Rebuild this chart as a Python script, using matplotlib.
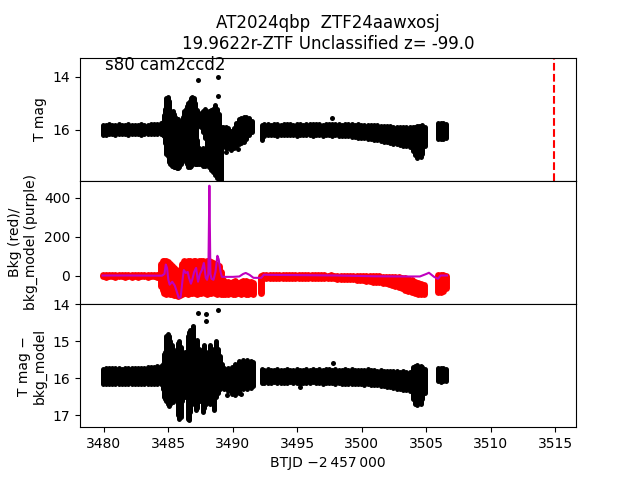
import matplotlib
matplotlib.use("Agg")
import matplotlib.pyplot as plt

# ---------------- data ----------------
# Top panel: T mag (ranges of the dense point band per time step)
top_t = [3479.90, 3480.15, 3480.40, 3480.65, 3480.90, 3481.15, 3481.40, 3481.65, 3481.90, 3482.15,
         3482.40, 3482.65, 3482.90, 3483.15, 3483.40, 3483.65, 3483.90, 3484.15, 3484.40, 3484.55,
         3484.65, 3484.75, 3484.85, 3484.95, 3485.05, 3485.15, 3485.25, 3485.35, 3485.45, 3485.55,
         3485.65, 3485.75, 3485.85, 3485.95, 3486.05, 3486.15, 3486.25, 3486.35, 3486.45, 3486.55,
         3486.65, 3486.75, 3486.85, 3486.95, 3487.05, 3487.15,
         3487.25, 3487.25, 3487.40, 3487.40, 3487.55, 3487.55, 3487.70, 3487.70, 3487.85, 3487.85,
         3488.00, 3488.15, 3488.30, 3488.45, 3488.60, 3488.75, 3488.90, 3489.05,
         3489.25, 3489.45, 3489.65, 3489.85, 3490.05, 3490.25, 3490.45, 3490.65, 3490.85, 3491.05,
         3491.25, 3491.45,
         3492.25, 3492.45, 3492.70, 3492.95, 3493.20, 3493.45, 3493.70, 3493.95, 3494.20, 3494.45,
         3494.70, 3494.95, 3495.20, 3495.45, 3495.70, 3495.95, 3496.20, 3496.45, 3496.70, 3496.95,
         3497.20, 3497.45, 3497.70, 3497.95, 3498.20, 3498.45, 3498.70, 3498.95, 3499.20, 3499.45,
         3499.70, 3499.95, 3500.20, 3500.45, 3500.70, 3500.95, 3501.20, 3501.45, 3501.70, 3501.95,
         3502.20, 3502.45, 3502.70, 3502.95, 3503.20, 3503.45, 3503.70, 3503.95, 3504.10, 3504.25,
         3504.40, 3504.55, 3504.70, 3504.90,
         3505.90, 3506.10, 3506.30, 3506.55]
top_lo = [15.80, 15.81, 15.79, 15.80, 15.81, 15.79, 15.80, 15.80, 15.79, 15.80,
          15.81, 15.80, 15.79, 15.80, 15.80, 15.79, 15.78, 15.77, 15.76, 15.70,
          15.45, 15.20, 14.80, 14.77, 14.90, 15.30, 15.40, 15.30, 15.40, 15.50,
          15.60, 15.60, 15.70, 15.80, 15.70, 15.50, 15.30, 15.20, 15.10, 15.00,
          14.90, 14.80, 14.77, 14.80, 15.00, 15.30,
          15.25, 16.40, 15.40, 16.70, 15.35, 16.90, 15.30, 16.70, 15.20, 16.80,
          15.50, 15.30, 15.25, 15.20, 15.05, 15.20, 15.40, 15.90,
          15.90, 15.90, 15.95, 16.05, 15.95, 15.75, 15.60, 15.55, 15.50, 15.50,
          15.55, 15.65,
          15.80, 15.79, 15.78, 15.80, 15.79, 15.78, 15.80, 15.79, 15.77, 15.79,
          15.80, 15.78, 15.79, 15.80, 15.78, 15.79, 15.77, 15.79, 15.78, 15.80,
          15.78, 15.77, 15.79, 15.78, 15.79, 15.80, 15.78, 15.79, 15.78, 15.80,
          15.79, 15.80, 15.81, 15.80, 15.82, 15.81, 15.83, 15.84, 15.85, 15.86,
          15.87, 15.88, 15.88, 15.90, 15.89, 15.90, 15.91, 15.90, 15.88, 15.86,
          15.84, 15.85, 15.83, 15.88,
          15.76, 15.74, 15.75, 15.78]
top_hi = [16.20, 16.18, 16.17, 16.16, 16.18, 16.17, 16.16, 16.17, 16.18, 16.16,
          16.17, 16.16, 16.18, 16.17, 16.16, 16.15, 16.16, 16.17, 16.16, 16.20,
          16.25, 16.50, 16.90, 17.00, 17.20, 17.30, 17.35, 17.35, 17.40, 17.40,
          17.45, 17.45, 17.40, 17.30, 17.10, 16.90, 17.00, 17.20, 17.30, 17.40,
          17.40, 17.35, 17.30, 17.25, 17.30, 17.30,
          15.90, 17.30, 15.80, 17.30, 15.90, 17.30, 16.10, 17.35, 16.30, 17.35,
          17.30, 17.40, 17.50, 17.60, 17.70, 17.80, 17.85, 17.90,
          16.60, 16.70, 16.70, 16.75, 16.70, 16.60, 16.55, 16.50, 16.45, 16.35,
          16.20, 16.10,
          16.40, 16.22, 16.20, 16.21, 16.19, 16.22, 16.20, 16.21, 16.20, 16.19,
          16.21, 16.22, 16.20, 16.19, 16.21, 16.20, 16.22, 16.21, 16.20, 16.22,
          16.21, 16.20, 16.22, 16.21, 16.23, 16.22, 16.24, 16.25, 16.26, 16.27,
          16.29, 16.30, 16.32, 16.34, 16.36, 16.38, 16.40, 16.42, 16.44, 16.46,
          16.48, 16.52, 16.55, 16.58, 16.60, 16.62, 16.65, 16.80, 16.95, 17.05,
          17.00, 17.04, 16.90, 16.60,
          16.33, 16.35, 16.34, 16.30]
top_dot_t = [3487.28, 3488.82, 3488.86, 3489.50, 3490.40, 3497.70]
top_dot_m = [14.11, 14.02, 14.74, 16.85, 16.72, 15.56]

# Middle panel: background flux (red band) and background model (purple line)
bkg_t = [3479.90, 3480.15, 3480.40, 3480.65, 3480.90, 3481.15, 3481.40, 3481.65, 3481.90, 3482.15,
         3482.40, 3482.65, 3482.90, 3483.15, 3483.40, 3483.65, 3483.90, 3484.15, 3484.30,
         3484.40, 3484.55, 3484.70, 3484.85, 3485.00, 3485.15, 3485.30, 3485.45, 3485.60, 3485.75,
         3485.90, 3486.05, 3486.20, 3486.35, 3486.50, 3486.65, 3486.80, 3486.95, 3487.10, 3487.25,
         3487.40, 3487.55, 3487.70, 3487.85, 3488.00, 3488.15, 3488.30, 3488.45, 3488.60, 3488.75,
         3488.90, 3489.05, 3489.20, 3489.40, 3489.60, 3489.80, 3490.00, 3490.20, 3490.40, 3490.60,
         3490.80, 3491.00, 3491.20, 3491.40, 3491.55,
         3492.20, 3492.35, 3492.60, 3492.85, 3493.10, 3493.35, 3493.60, 3493.85, 3494.10, 3494.35,
         3494.60, 3494.85, 3495.10, 3495.35, 3495.60, 3495.85, 3496.10, 3496.35, 3496.60, 3496.85,
         3497.10, 3497.35, 3497.60, 3497.85, 3498.10, 3498.35, 3498.60, 3498.85, 3499.10, 3499.35,
         3499.60, 3499.85, 3500.10, 3500.35, 3500.60, 3500.85, 3501.10, 3501.35, 3501.60, 3501.85,
         3502.10, 3502.35, 3502.60, 3502.85, 3503.10, 3503.35, 3503.60, 3503.85, 3504.10, 3504.35,
         3504.60, 3504.85,
         3505.90, 3506.10, 3506.30, 3506.55]
bkg_lo = [-3, -4, -3, -3, -4, -3, -3, -4, -3, -4,
          -3, -4, -3, -3, -4, -3, -3, -4, -4,
          -50, -70, -90, -95, -90, -95, -95, -100, -100, -105,
          -100, -95, -90, -90, -95, -90, -90, -85, -90, -95,
          -90, -90, -85, -90, -95, -90, -90, -85, -90, -95,
          -90, -95, -95, -92, -95, -90, -92, -95, -90, -92,
          -90, -95, -92, -90, -95,
          -90, -12, -12, -11, -12, -12, -13, -12, -11, -12,
          -12, -13, -12, -12, -11, -12, -13, -12, -12, -13,
          -12, -13, -12, -13, -14, -14, -15, -16, -17, -18,
          -19, -21, -23, -25, -27, -29, -31, -33, -36, -39,
          -42, -46, -52, -58, -64, -70, -76, -82, -88, -93,
          -95, -95,
          -80, -80, -75, -60]
bkg_hi = [4, 3, 4, 4, 3, 4, 4, 3, 3, 4,
          3, 4, 4, 3, 4, 3, 4, 3, 4,
          60, 74, 74, 74, 70, 60, 50, 40, 30, 20,
          30, 60, 74, 70, 74, 74, 70, 74, 74, 70,
          74, 74, 74, 72, 74, 74, 70, 65, 60, 55,
          50, 20, -20, -30, -32, -35, -30, -28, -38, -30,
          -25, -28, -30, -32, -35,
          0, 4, 3, 4, 3, 3, 2, 3, 3, 2,
          3, 2, 3, 2, 3, 2, 2, 3, 2, 2,
          2, 1, 2, 1, 1, 1, 0, 0, 0, -1,
          -1, -1, -2, -2, -2, -3, -3, -3, -4, -4,
          -4, -5, -6, -8, -10, -13, -17, -22, -30, -36,
          -40, -45,
          2, 4, 3, 0]
model_t = [3479.90, 3482.00, 3484.50, 3484.70, 3484.80, 3484.90, 3485.00, 3485.10, 3485.30, 3485.50,
           3485.70, 3485.80, 3485.95, 3486.10, 3486.20, 3486.35, 3486.50, 3486.60, 3486.75, 3486.85,
           3487.00, 3487.15, 3487.30, 3487.45, 3487.60, 3487.75, 3487.90, 3488.00, 3488.10, 3488.18,
           3488.26, 3488.35, 3488.50, 3488.65, 3488.80, 3488.90, 3489.05, 3489.15, 3489.50, 3490.00,
           3490.50, 3490.80, 3491.00, 3491.30, 3491.60, 3492.20, 3492.40, 3493.00, 3495.00, 3498.00,
           3501.00, 3503.00, 3504.50, 3505.00, 3505.20, 3505.60, 3505.90, 3506.10, 3506.60]
model_v = [2, 2, 1, 10, 58, 40, -20, -45, -30, -50,
           -90, -113, -110, -20, 30, 15, 20, -10, -40, -20,
           20, 41, -30, 10, 30, 66, -10, -20, 10, 462,
           10, -15, -20, 20, 103, 85, 20, -5, -5, -5,
           -3, 10, 15, 5, -10, -10, 6, 5, 4, 2,
           -2, -3, -3, 10, 16, -5, -15, 2, 2]

# Bottom panel: T mag - bkg_model
bot_t = [3479.90, 3480.15, 3480.40, 3480.65, 3480.90, 3481.15, 3481.40, 3481.65, 3481.90, 3482.15,
         3482.40, 3482.65, 3482.90, 3483.15, 3483.40, 3483.65, 3483.90, 3484.15, 3484.40, 3484.55,
         3484.65, 3484.75, 3484.85, 3484.95, 3485.05, 3485.15, 3485.25, 3485.35, 3485.45, 3485.60,
         3485.75, 3485.85, 3485.95, 3486.05, 3486.30, 3486.50, 3486.60, 3486.70, 3486.80, 3486.90,
         3487.00, 3487.15, 3487.25, 3487.35, 3487.50, 3487.50, 3487.65, 3487.80, 3487.95, 3488.10,
         3488.25, 3488.40, 3488.55, 3488.70, 3488.85, 3489.00, 3489.15,
         3489.30, 3489.60, 3489.90, 3490.20, 3490.50, 3490.80, 3491.10, 3491.40, 3491.55,
         3492.25, 3492.45, 3492.70, 3492.95, 3493.20, 3493.45, 3493.70, 3493.95, 3494.20, 3494.45,
         3494.70, 3494.95, 3495.20, 3495.45, 3495.70, 3495.95, 3496.20, 3496.45, 3496.70, 3496.95,
         3497.20, 3497.45, 3497.70, 3497.95, 3498.20, 3498.45, 3498.70, 3498.95, 3499.20, 3499.45,
         3499.70, 3499.95, 3500.20, 3500.45, 3500.70, 3500.95, 3501.20, 3501.45, 3501.70, 3501.95,
         3502.20, 3502.45, 3502.70, 3502.95, 3503.20, 3503.45, 3503.70, 3503.95, 3504.10, 3504.25,
         3504.40, 3504.55, 3504.70, 3504.90,
         3505.90, 3506.10, 3506.30, 3506.55]
bot_lo = [15.74, 15.73, 15.72, 15.73, 15.72, 15.73, 15.74, 15.72, 15.73, 15.72,
          15.73, 15.72, 15.71, 15.72, 15.70, 15.69, 15.68, 15.67, 15.66, 15.60,
          15.35, 15.30, 14.85, 14.80, 14.85, 15.00, 15.10, 15.20, 15.30, 15.60,
          15.05, 15.00, 15.15, 15.40, 15.30, 14.85, 14.75, 14.70, 14.80, 14.60,
          15.20, 15.00, 14.97, 15.20, 15.30, 16.10, 15.20, 15.10, 15.30, 15.40,
          15.10, 15.20, 15.30, 15.00, 15.20, 15.40, 15.60,
          15.72, 15.72, 15.70, 15.60, 15.52, 15.50, 15.50, 15.52, 15.55,
          15.76, 15.77, 15.76, 15.78, 15.77, 15.76, 15.78, 15.77, 15.75, 15.77,
          15.78, 15.76, 15.77, 15.78, 15.76, 15.77, 15.75, 15.77, 15.76, 15.78,
          15.76, 15.75, 15.77, 15.76, 15.77, 15.78, 15.76, 15.77, 15.76, 15.78,
          15.77, 15.78, 15.77, 15.76, 15.78, 15.77, 15.79, 15.78, 15.79, 15.80,
          15.80, 15.81, 15.80, 15.82, 15.81, 15.82, 15.83, 15.70, 15.66, 15.65,
          15.68, 15.66, 15.70, 15.75,
          15.72, 15.71, 15.72, 15.74]
bot_hi = [16.15, 16.14, 16.16, 16.15, 16.14, 16.16, 16.15, 16.14, 16.15, 16.16,
          16.15, 16.14, 16.16, 16.15, 16.14, 16.15, 16.16, 16.15, 16.16, 16.30,
          16.50, 16.55, 16.60, 16.70, 16.75, 16.70, 16.60, 16.65, 16.50, 15.90,
          17.00, 17.10, 17.05, 16.60, 16.50, 17.10, 17.13, 16.90, 16.70, 16.40,
          16.30, 16.85, 16.80, 16.60, 15.70, 16.60, 16.90, 16.80, 16.70, 16.50,
          16.70, 16.60, 16.85, 16.50, 16.40, 16.30, 16.20,
          16.30, 16.35, 16.42, 16.45, 16.40, 16.30, 16.30, 16.25, 16.20,
          16.13, 16.12, 16.13, 16.12, 16.11, 16.13, 16.12, 16.13, 16.12, 16.11,
          16.13, 16.12, 16.14, 16.12, 16.13, 16.12, 16.11, 16.13, 16.12, 16.14,
          16.12, 16.13, 16.12, 16.14, 16.13, 16.14, 16.15, 16.14, 16.15, 16.16,
          16.15, 16.16, 16.17, 16.16, 16.18, 16.17, 16.19, 16.20, 16.21, 16.22,
          16.24, 16.26, 16.28, 16.30, 16.31, 16.32, 16.33, 16.55, 16.70, 16.72,
          16.65, 16.70, 16.55, 16.40,
          16.08, 16.09, 16.08, 16.06]
bot_dot_t = [3486.94, 3487.28, 3487.93, 3487.93, 3488.83, 3489.53, 3490.60, 3495.20, 3497.80]
bot_dot_m = [14.59, 14.23, 14.26, 14.44, 14.15, 16.45, 16.42, 16.24, 15.58]

vline_t = 3514.86
title_text = "AT2024qbp  ZTF24aawxosj\n19.9622r-ZTF Unclassified z= -99.0"
label_text = "s80 cam2ccd2"

# ---------------- plotting ----------------
fig, (ax1, ax2, ax3) = plt.subplots(3, 1, sharex=True, figsize=(6.4, 4.8), dpi=100)
fig.subplots_adjust(hspace=0)

ax1.vlines(top_t, top_lo, top_hi, colors="k", linewidth=3.6, capstyle="round")
ax1.plot(top_dot_t, top_dot_m, "o", color="k", ms=3.6, mec="none")
ax1.axvline(vline_t, color="r", ls="--", lw=1.5)
ax1.set_ylim(17.92, 13.28)
ax1.set_yticks([14, 16])
ax1.set_ylabel("T mag")
ax1.set_title(title_text)
ax1.text(0.05, 0.9, label_text, transform=ax1.transAxes, fontsize=12)

ax2.vlines(bkg_t, bkg_lo, bkg_hi, colors="r", linewidth=5, capstyle="round")
ax2.plot(model_t, model_v, color="m", lw=1.5)
ax2.set_ylim(-144, 487)
ax2.set_yticks([0, 200, 400])
ax2.set_ylabel("Bkg (red)/\nbkg_model (purple)")

ax3.vlines(bot_t, bot_lo, bot_hi, colors="k", linewidth=3.6, capstyle="round")
ax3.plot(bot_dot_t, bot_dot_m, "o", color="k", ms=3.6, mec="none")
ax3.set_ylim(17.32, 13.99)
ax3.set_yticks([14, 15, 16, 17])
ax3.set_ylabel("T mag \u2212\nbkg_model")
ax3.set_xlim(3478.15, 3516.6)
ax3.set_xticks([3480, 3485, 3490, 3495, 3500, 3505, 3510, 3515])
ax3.set_xlabel("BTJD \u22122\u2009457\u2009000")

fig.savefig("out.png", dpi=100)
